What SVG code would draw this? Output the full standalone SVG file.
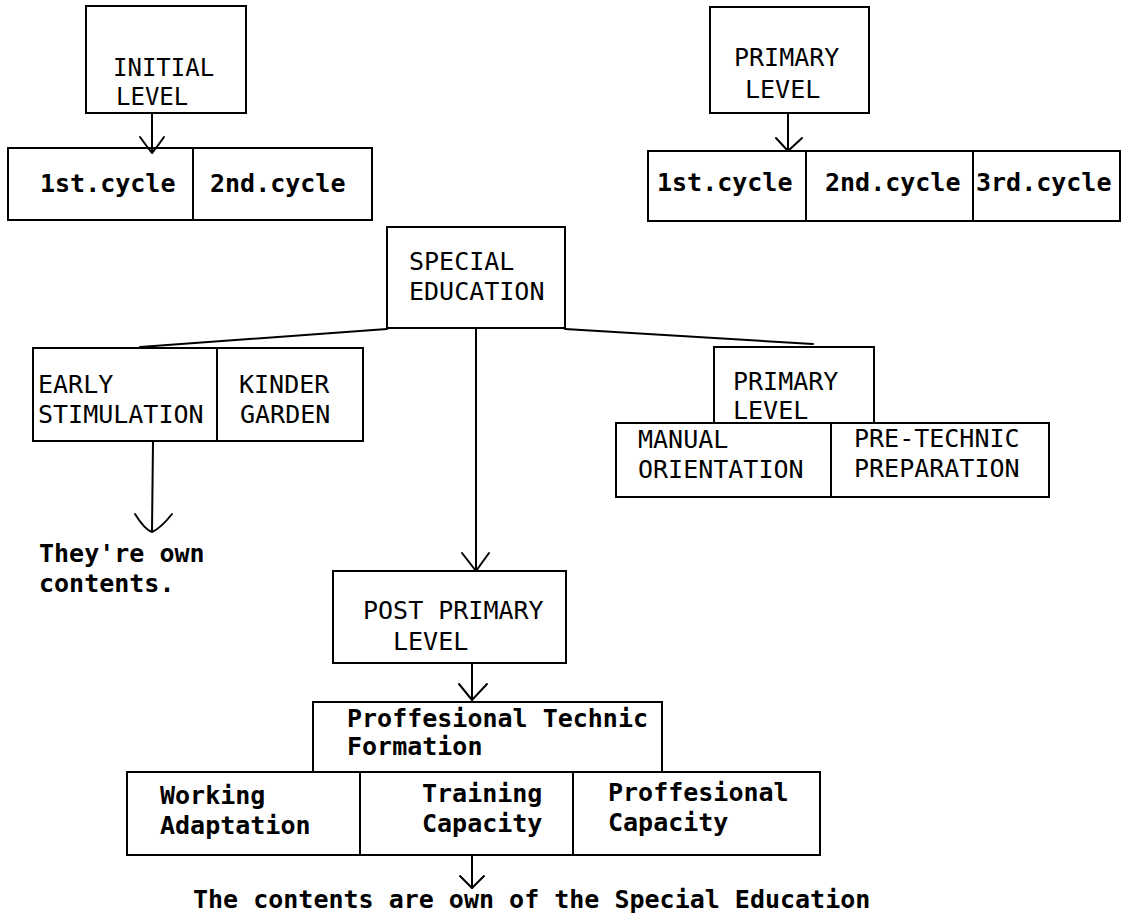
<svg xmlns="http://www.w3.org/2000/svg" width="1148" height="918" viewBox="0 0 1148 918">
<style>
  .bg { fill: #ffffff; }
  .box { fill: none; stroke: #000; stroke-width: 2; }
  .ln { fill: none; stroke: #000; stroke-width: 2; stroke-linecap: round; stroke-linejoin: round; }
  .up { font-family: "DejaVu Sans Mono", "Liberation Mono", monospace; font-size: 25px; fill: #000; }
  .lo { font-family: "DejaVu Sans Mono", "Liberation Mono", monospace; font-size: 25px; font-weight: bold; fill: #000; }
</style>
<rect class="bg" x="0" y="0" width="1148" height="918"/>

<g id="connectors">
  <!-- Initial level -> cycles -->
  <line class="ln" x1="152" y1="113" x2="152" y2="152"/>
  <path class="ln" d="M140,137 Q148,148 152,153 Q157,147 164,137"/>
  <!-- Primary level -> cycles -->
  <line class="ln" x1="788" y1="113" x2="788" y2="151"/>
  <path class="ln" d="M776,138 L788,151 L802,138"/>
  <!-- Special education branches -->
  <line class="ln" x1="387" y1="329" x2="140" y2="347"/>
  <line class="ln" x1="565" y1="329" x2="813" y2="344"/>
  <line class="ln" x1="476" y1="328" x2="476" y2="571"/>
  <path class="ln" d="M462,553 L476,571 L489,553"/>
  <!-- Early stimulation -> own contents -->
  <line class="ln" x1="153" y1="441" x2="152" y2="531"/>
  <path class="ln" d="M135,514 Q145,530 152,532 Q161,528 172,514"/>
  <!-- Post primary -> professional technic formation -->
  <line class="ln" x1="472" y1="663" x2="472" y2="700"/>
  <path class="ln" d="M459,684 L472,700 L487,684"/>
  <!-- Bottom -> contents text -->
  <line class="ln" x1="472" y1="855" x2="472" y2="888"/>
  <path class="ln" d="M460,876 L472,888 L484,876"/>
</g>

<g id="initial-level">
  <rect class="box" x="86" y="6" width="160" height="107"/>
  <text class="up" x="113" y="76" style="font-size:24px">INITIAL</text>
  <text class="up" x="116" y="105" style="font-size:24px">LEVEL</text>
</g>
<g id="initial-1st-cycle">
  <rect class="box" x="8" y="148" width="185" height="72"/>
  <text class="lo" x="40" y="192">1st.cycle</text>
</g>
<g id="initial-2nd-cycle">
  <rect class="box" x="193" y="148" width="179" height="72"/>
  <text class="lo" x="210" y="192">2nd.cycle</text>
</g>

<g id="primary-level">
  <rect class="box" x="710" y="7" width="159" height="106"/>
  <text class="up" x="734" y="66">PRIMARY</text>
  <text class="up" x="745" y="98">LEVEL</text>
</g>
<g id="primary-1st-cycle">
  <rect class="box" x="648" y="151" width="158" height="70"/>
  <text class="lo" x="657" y="191">1st.cycle</text>
</g>
<g id="primary-2nd-cycle">
  <rect class="box" x="806" y="151" width="167" height="70"/>
  <text class="lo" x="825" y="191">2nd.cycle</text>
</g>
<g id="primary-3rd-cycle">
  <rect class="box" x="973" y="151" width="147" height="70"/>
  <text class="lo" x="976" y="191">3rd.cycle</text>
</g>

<g id="special-education">
  <rect class="box" x="387" y="227" width="178" height="101"/>
  <text class="up" x="409" y="270">SPECIAL</text>
  <text class="up" x="409" y="300">EDUCATION</text>
</g>

<g id="early-stimulation">
  <rect class="box" x="33" y="348" width="184" height="93"/>
  <text class="up" x="38" y="393">EARLY</text>
  <text class="up" x="38" y="423">STIMULATION</text>
</g>
<g id="kinder-garden">
  <rect class="box" x="217" y="348" width="146" height="93"/>
  <text class="up" x="239" y="393">KINDER</text>
  <text class="up" x="240" y="423">GARDEN</text>
</g>

<g id="own-contents">
  <text class="lo" x="39" y="562">They're own</text>
  <text class="lo" x="39" y="592">contents.</text>
</g>

<g id="sp-primary-level">
  <rect class="box" x="714" y="347" width="160" height="76"/>
  <text class="up" x="733" y="390">PRIMARY</text>
  <text class="up" x="733" y="419">LEVEL</text>
</g>
<g id="manual-orientation">
  <rect class="box" x="616" y="423" width="215" height="74"/>
  <text class="up" x="638" y="448">MANUAL</text>
  <text class="up" x="638" y="478">ORIENTATION</text>
</g>
<g id="pre-technic-preparation">
  <rect class="box" x="831" y="423" width="218" height="74"/>
  <text class="up" x="854" y="447">PRE-TECHNIC</text>
  <text class="up" x="854" y="477">PREPARATION</text>
</g>

<g id="post-primary-level">
  <rect class="box" x="333" y="571" width="233" height="92"/>
  <text class="up" x="363" y="619">POST PRIMARY</text>
  <text class="up" x="393" y="650">LEVEL</text>
</g>

<g id="professional-technic-formation">
  <rect class="box" x="313" y="702" width="349" height="70"/>
  <text class="lo" x="347" y="727">Proffesional Technic</text>
  <text class="lo" x="347" y="755">Formation</text>
</g>
<g id="working-adaptation">
  <rect class="box" x="127" y="772" width="233" height="83"/>
  <text class="lo" x="160" y="804">Working</text>
  <text class="lo" x="160" y="834">Adaptation</text>
</g>
<g id="training-capacity">
  <rect class="box" x="360" y="772" width="213" height="83"/>
  <text class="lo" x="422" y="802">Training</text>
  <text class="lo" x="422" y="832">Capacity</text>
</g>
<g id="professional-capacity">
  <rect class="box" x="573" y="772" width="247" height="83"/>
  <text class="lo" x="608" y="801">Proffesional</text>
  <text class="lo" x="608" y="831">Capacity</text>
</g>

<g id="special-education-contents">
  <text class="lo" x="193" y="908">The contents are own of the Special Education</text>
</g>
</svg>
